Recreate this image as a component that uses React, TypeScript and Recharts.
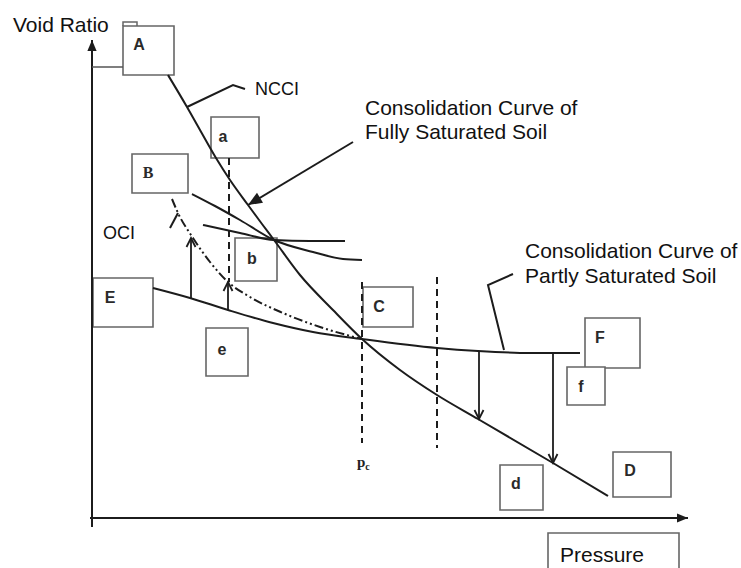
import React from 'react';
import { ComposedChart, Line, XAxis, YAxis, ReferenceArea, Scatter } from 'recharts';

type Pt = { p: number; v: number };

// p = pressure (from axis origin), v = void ratio (from axis origin), schematic units
const ncclCurve: Pt[] = [
  { p: 78, v: 445 }, { p: 97, v: 413 }, { p: 110, v: 390 }, { p: 126, v: 362 },
  { p: 140, v: 340 }, { p: 158, v: 315 }, { p: 172, v: 296 }, { p: 184, v: 280 },
  { p: 210, v: 245 }, { p: 243, v: 210 }, { p: 272, v: 181 }, { p: 310, v: 150 },
  { p: 347, v: 125 }, { p: 388, v: 101 }, { p: 463, v: 57 }, { p: 518, v: 24 },
];
const partlySaturatedCurve: Pt[] = [
  { p: 63, v: 232 }, { p: 100, v: 222 }, { p: 138, v: 210 }, { p: 183, v: 197 },
  { p: 223, v: 188 }, { p: 272, v: 181 }, { p: 347, v: 172 }, { p: 388, v: 169 },
  { p: 440, v: 167 }, { p: 490, v: 167 },
];
const dashDotCurve: Pt[] = [
  { p: 82, v: 321 }, { p: 88, v: 307 }, { p: 103, v: 282 }, { p: 120, v: 258 },
  { p: 138, v: 238 }, { p: 160, v: 223 }, { p: 193, v: 207 }, { p: 230, v: 193 },
  { p: 272, v: 181 },
];
const dashDotTick: Pt[] = [{ p: 88, v: 307 }, { p: 80, v: 292 }];
const recompressionCurve: Pt[] = [
  { p: 102, v: 326 }, { p: 125, v: 314 }, { p: 150, v: 300 }, { p: 184, v: 280 },
  { p: 223, v: 268 }, { p: 253, v: 261 }, { p: 272, v: 260 },
];
const flatCurve: Pt[] = [
  { p: 113, v: 295 }, { p: 150, v: 287 }, { p: 184, v: 280 }, { p: 220, v: 279 }, { p: 255, v: 279 },
];
const dashedA: Pt[] = [{ p: 139, v: 362 }, { p: 139, v: 238 }];
const dashedPc: Pt[] = [{ p: 272, v: 238 }, { p: 272, v: 77 }];
const dashedRight: Pt[] = [{ p: 347, v: 243 }, { p: 347, v: 72 }];

const upArrow1: Pt[] = [{ p: 101, v: 222 }, { p: 101, v: 282 }];
const upArrow2: Pt[] = [{ p: 138, v: 210 }, { p: 138, v: 238 }];
const downArrow1: Pt[] = [{ p: 389, v: 169 }, { p: 389, v: 101 }];
const downArrow2: Pt[] = [{ p: 463, v: 168 }, { p: 463, v: 57 }];

const fullyLeader: Pt[] = [{ p: 263, v: 378 }, { p: 158, v: 315 }];
const ncclLeader: Pt[] = [{ p: 97, v: 413 }, { p: 143, v: 435 }, { p: 155, v: 431 }];
const partlyLeader: Pt[] = [{ p: 414, v: 170 }, { p: 398, v: 235 }, { p: 423, v: 246 }];

const yAxisLine: Pt[] = [{ p: 2, v: -7 }, { p: 2, v: 480 }];
const xAxisLine: Pt[] = [{ p: 0, v: 2 }, { p: 598, v: 2 }];
const aConnector: Pt[] = [{ p: 2, v: 453 }, { p: 33, v: 453 }];
const aTab: Pt[] = [{ p: 33, v: 494 }, { p: 33, v: 498 }, { p: 47, v: 498 }, { p: 47, v: 494 }];

const boxNames = ['A', 'a', 'B', 'b', 'C', 'E', 'e', 'F', 'f', 'd', 'D', ''];
const boxP1 = [33, 121, 42, 145, 273, 3, 116, 495, 477, 410, 523, 458];
const boxP2 = [84, 169, 98, 187, 323, 63, 158, 550, 515, 453, 581, 589];
const boxV1 = [445, 362, 327, 239, 193, 193, 144, 152, 115, 10, 23, -60];
const boxV2 = [494, 403, 366, 282, 233, 242, 192, 202, 153, 55, 68, -13];
const boxLabelP = [49, 133, 58, 162, 289, 20, 132, 510, 491, 426, 540, 0];
const boxLabelV = [476, 384, 348, 262, 214, 223, 171, 183, 134, 37, 50, 0];

const textLabels = [
  { p: -77, v: 496, t: 'Void Ratio', kind: 'title' },
  { p: 165, v: 431, t: 'NCCI', kind: 'small' },
  { p: 275, v: 413, t: 'Consolidation Curve of', kind: 'title' },
  { p: 275, v: 389, t: 'Fully Saturated Soil', kind: 'title' },
  { p: 435, v: 270, t: 'Consolidation Curve of', kind: 'title' },
  { p: 435, v: 245, t: 'Partly Saturated Soil', kind: 'title' },
  { p: 13, v: 287, t: 'OCI', kind: 'small' },
  { p: 470, v: -34, t: 'Pressure', kind: 'title' },
  { p: 267, v: 58, t: 'p', sub: 'c', kind: 'serif' },
];

const boxLabelData = boxNames
  .map((n, i) => ({ p: boxLabelP[i], v: boxLabelV[i], t: n, kind: n === 'B' ? 'boxSerif' : 'box' }))
  .filter((d) => d.t !== '');

const INK = '#1c1c1c';
const SANS = '"Liberation Sans", Arial, Helvetica, sans-serif';
const SERIF = '"Liberation Serif", "Times New Roman", serif';

function arrowDot(data: Pt[], kind: 'open' | 'filled', size: number) {
  return (props: any) => {
    const { cx, cy, index } = props;
    if (index !== data.length - 1 || cx == null || cy == null) return <g key={`n${index}`} />;
    const a = data[index - 1];
    const b = data[index];
    let dx = b.p - a.p;
    let dy = -(b.v - a.v);
    const len = Math.hypot(dx, dy) || 1;
    dx /= len;
    dy /= len;
    const nx = -dy;
    const ny = dx;
    const w = kind === 'filled' ? size * 0.42 : size * 0.5;
    const bx = cx - dx * size;
    const by = cy - dy * size;
    const p1 = `${bx + nx * w},${by + ny * w}`;
    const p2 = `${bx - nx * w},${by - ny * w}`;
    if (kind === 'filled') {
      return <polygon key={`h${index}`} points={`${cx},${cy} ${p1} ${p2}`} fill={INK} />;
    }
    return <polyline key={`h${index}`} points={`${p1} ${cx},${cy} ${p2}`} fill="none" stroke={INK} strokeWidth={1.8} />;
  };
}

function renderText(props: any) {
  const { cx, cy, payload } = props;
  if (cx == null) return <g />;
  const k = payload.kind;
  if (k === 'title' || k === 'small') {
    return (
      <text x={cx} y={cy} dominantBaseline="central" fontFamily={SANS} fontSize={k === 'title' ? 21 : 18} fill="#111">
        {payload.t}
      </text>
    );
  }
  if (k === 'serif') {
    return (
      <text x={cx} y={cy} dominantBaseline="central" fontFamily={SERIF} fontWeight="bold" fontSize={15} fill="#222">
        {payload.t}
        <tspan fontSize={10} dy={4}>{payload.sub}</tspan>
      </text>
    );
  }
  return (
    <text
      x={cx}
      y={cy}
      textAnchor="middle"
      dominantBaseline="central"
      fontFamily={k === 'boxSerif' ? SERIF : SANS}
      fontWeight="bold"
      fontSize={16}
      fill="#2a2a2a"
    >
      {payload.t}
    </text>
  );
}

const solid = { type: 'linear' as const, stroke: INK, strokeWidth: 2, dot: false, activeDot: false, isAnimationActive: false, dataKey: 'v' };

export default function App() {
  return (
    <div style={{ position: 'absolute', left: 0, top: 0, width: 741, height: 568, background: '#fff' }}>
      <ComposedChart width={741} height={568} margin={{ top: 0, right: 0, bottom: 0, left: 0 }}>
        <XAxis type="number" dataKey="p" domain={[-90, 651]} hide allowDataOverflow />
        <YAxis type="number" dataKey="v" domain={[-48, 520]} hide allowDataOverflow />
        {boxNames.map((n, i) => (
          <ReferenceArea
            key={`box${i}`}
            x1={boxP1[i]}
            x2={boxP2[i]}
            y1={boxV1[i]}
            y2={boxV2[i]}
            fill="#fff"
            fillOpacity={1}
            stroke="#666"
            strokeWidth={1.6}
            ifOverflow="visible"
          />
        ))}
        <Line {...solid} data={yAxisLine} dot={arrowDot(yAxisLine, 'filled', 11)} />
        <Line {...solid} data={xAxisLine} dot={arrowDot(xAxisLine, 'filled', 11)} />
        <Line {...solid} data={aConnector} stroke="#555" strokeWidth={1.5} />
        <Line {...solid} data={aTab} stroke="#666" strokeWidth={1.5} />
        <Line {...solid} type="monotone" data={ncclCurve} />
        <Line {...solid} type="monotone" data={partlySaturatedCurve} />
        <Line {...solid} type="monotone" data={recompressionCurve} />
        <Line {...solid} type="monotone" data={flatCurve} />
        <Line {...solid} type="monotone" data={dashDotCurve} strokeDasharray="9 3 2 3 2 3" />
        <Line {...solid} data={dashDotTick} />
        <Line {...solid} data={dashedA} strokeDasharray="7 5" />
        <Line {...solid} data={dashedPc} strokeDasharray="7 5" />
        <Line {...solid} data={dashedRight} strokeDasharray="7 5" />
        <Line {...solid} data={upArrow1} strokeWidth={1.8} dot={arrowDot(upArrow1, 'open', 9)} />
        <Line {...solid} data={upArrow2} strokeWidth={1.8} dot={arrowDot(upArrow2, 'open', 9)} />
        <Line {...solid} data={downArrow1} strokeWidth={1.8} dot={arrowDot(downArrow1, 'open', 9)} />
        <Line {...solid} data={downArrow2} strokeWidth={1.8} dot={arrowDot(downArrow2, 'open', 9)} />
        <Line {...solid} data={fullyLeader} dot={arrowDot(fullyLeader, 'filled', 14)} />
        <Line {...solid} data={ncclLeader} />
        <Line {...solid} data={partlyLeader} />
        <Scatter data={boxLabelData} shape={renderText} isAnimationActive={false} />
        <Scatter data={textLabels} shape={renderText} isAnimationActive={false} />
      </ComposedChart>
    </div>
  );
}
